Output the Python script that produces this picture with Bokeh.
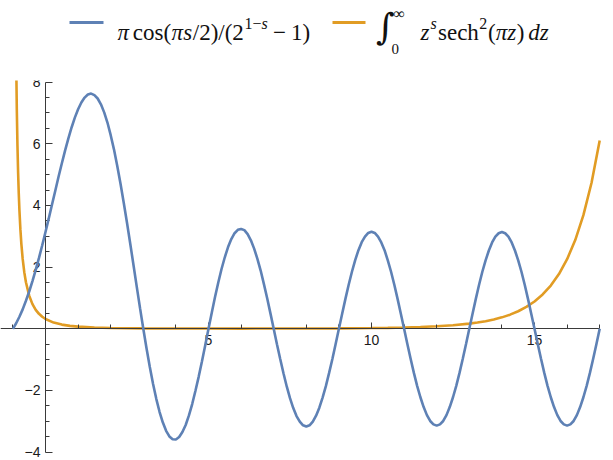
from bokeh.plotting import figure
from bokeh.models import Range1d, LinearAxis, FixedTicker, Label, Arrow
from bokeh.layouts import column
from bokeh.embed import file_html
from bokeh.resources import INLINE

# ---------------- data ----------------
s_blue = [i / 10 for i in range(-10, 171)]
blue_values = [
    0.00, 0.18, 0.39, 0.63, 0.91, 1.21, 1.55, 1.91, 2.30, 2.71,
    3.14, 3.58, 4.03, 4.48, 4.93, 5.36, 5.78, 6.17, 6.53, 6.85,
    7.12, 7.34, 7.50, 7.60, 7.63, 7.58, 7.47, 7.28, 7.02, 6.69,
    6.28, 5.82, 5.29, 4.71, 4.09, 3.44, 2.76, 2.06, 1.36, 0.67,
    0.00, -0.64, -1.24, -1.79, -2.28, -2.70, -3.04, -3.31, -3.49, -3.58,
    -3.59, -3.51, -3.35, -3.12, -2.81, -2.44, -2.01, -1.55, -1.05, -0.53,
    0.00, 0.52, 1.03, 1.50, 1.94, 2.32, 2.65, 2.91, 3.10, 3.21,
    3.24, 3.20, 3.07, 2.87, 2.60, 2.27, 1.89, 1.45, 0.99, 0.50,
    0.00, -0.50, -0.98, -1.44, -1.87, -2.25, -2.57, -2.83, -3.01, -3.13,
    -3.17, -3.13, -3.01, -2.82, -2.56, -2.23, -1.86, -1.43, -0.98, -0.49,
    0.00, 0.49, 0.97, 1.43, 1.85, 2.23, 2.55, 2.81, 2.99, 3.11,
    3.15, 3.11, 2.99, 2.80, 2.55, 2.22, 1.85, 1.43, 0.97, 0.49,
    0.00, -0.49, -0.97, -1.43, -1.85, -2.22, -2.54, -2.80, -2.99, -3.10,
    -3.14, -3.10, -2.99, -2.80, -2.54, -2.22, -1.85, -1.43, -0.97, -0.49,
    0.00, 0.49, 0.97, 1.43, 1.85, 2.22, 2.54, 2.80, 2.99, 3.10,
    3.14, 3.10, 2.99, 2.80, 2.54, 2.22, 1.85, 1.43, 0.97, 0.49,
    0.00, -0.49, -0.97, -1.43, -1.85, -2.22, -2.54, -2.80, -2.99, -3.10,
    -3.14, -3.10, -2.99, -2.80, -2.54, -2.22, -1.85, -1.43, -0.97, -0.49,
    0.00,
]
s_orange = [-0.92, -0.9, -0.88, -0.86, -0.84, -0.82, -0.8, -0.77, -0.74, -0.7,
            -0.65, -0.6, -0.5, -0.4, -0.3, -0.2, -0.1, 0, 0.25, 0.5, 0.75, 1,
            1.5, 2, 3, 4, 5, 6, 7, 8, 9, 10, 10.5, 11, 11.5, 12, 12.5, 13,
            13.25, 13.5, 13.75, 14, 14.25, 14.5, 14.75, 15, 15.25, 15.5, 15.75,
            16, 16.25, 16.5, 16.75, 17]
orange_values = [11.234, 8.755, 7.108, 5.937, 5.063, 4.387, 3.850, 3.224, 2.748,
                 2.268, 1.830, 1.509, 1.075, 0.801, 0.616, 0.486, 0.390, 0.318,
                 0.202, 0.136, 0.096, 0.070, 0.041, 0.027, 0.014, 0.009, 0.008,
                 0.007, 0.008, 0.011, 0.015, 0.024, 0.031, 0.042, 0.058, 0.081,
                 0.115, 0.167, 0.202, 0.247, 0.302, 0.371, 0.459, 0.569, 0.709,
                 0.886, 1.113, 1.404, 1.777, 2.257, 2.879, 3.686, 4.736, 6.108]

x_major_ticks = [5, 10, 15]
x_minor_ticks = [-1, 1, 2, 3, 4, 6, 7, 8, 9, 11, 12, 13, 14, 16, 17]
y_major_ticks = [-4, -2, 2, 4, 6, 8]
y_minor_ticks = [-3.5, -3, -2.5, -1.5, -1, -0.5, 0.5, 1, 1.5, 2.5, 3, 3.5,
                 4.5, 5, 5.5, 6.5, 7, 7.5]
y_label_overrides = {-4: "\u22124", -2: "\u22122"}

BLUE = "#5E81B5"
ORANGE = "#E19C24"
AXIS = "#3a3a3a"

# ---------------- geometry (page pixels -> data) ----------------
W = 605
PX0, PXU = 45.0, 32.6      # page x of s=0, px per unit
PY0, PYU = 328.3, 30.83    # page y of value 0, px per unit
x_start = (0 - PX0) / PXU
x_end = (W - PX0) / PXU
y_end = (PY0 - 80) / PYU
y_start = (PY0 - 460) / PYU

p = figure(width=W, height=390, x_range=Range1d(x_start, x_end),
           y_range=Range1d(y_start, y_end), x_axis_location=None,
           y_axis_location=None, toolbar_location=None, output_backend="svg",
           min_border_left=0, min_border_right=0, min_border_bottom=0,
           min_border_top=10, outline_line_color=None)
p.grid.visible = False

common = dict(axis_line_color=AXIS, axis_line_width=1,
              major_tick_line_color=AXIS, minor_tick_line_color=AXIS,
              major_tick_line_width=1, minor_tick_line_width=1,
              major_tick_out=0, minor_tick_out=0,
              major_label_text_font="Liberation Sans",
              major_label_text_font_size="14px",
              major_label_text_color="#1a1a1a")

xa = LinearAxis(fixed_location=0,
                ticker=FixedTicker(ticks=x_major_ticks, minor_ticks=x_minor_ticks),
                bounds=(x_start, 17), major_tick_in=6, minor_tick_in=4,
                major_label_standoff=6, **common)
p.add_layout(xa, "below")

ya = LinearAxis(fixed_location=0,
                ticker=FixedTicker(ticks=y_major_ticks, minor_ticks=y_minor_ticks),
                bounds=(-4, 8), major_tick_in=7, minor_tick_in=4,
                major_label_standoff=5, major_label_overrides=y_label_overrides,
                **common)
p.add_layout(ya, "left")

p.line(s_blue, blue_values, line_color=BLUE, line_width=2.6, level="overlay")
p.line(s_orange, orange_values, line_color=ORANGE, line_width=2.6)

# ---------------- legend (page-pixel coordinates) ----------------
lf = figure(width=W, height=70, x_range=Range1d(0, W), y_range=Range1d(70, 0),
            x_axis_location=None, y_axis_location=None, toolbar_location=None,
            output_backend="svg", min_border=0, outline_line_color=None)
lf.grid.visible = False

lf.add_layout(Arrow(x_start=69, y_start=22, x_end=103, y_end=22, end=None,
                    line_color=BLUE, line_width=3))
lf.add_layout(Arrow(x_start=332, y_start=22, x_end=365, y_end=22, end=None,
                    line_color=ORANGE, line_width=3))

SERIF = "Liberation Serif"
MAIN, SUP = 23, 16
BASE, RAISE = 32, 9
EMW = {"normal": {" ": .25, "c": .444, "o": .5, "s": .389, "e": .444, "h": .5,
                  "(": .333, ")": .333, "/": .278, "1": .5, "2": .5, "\u2212": .564},
       "italic": {"\u03c0": .5, "s": .389, "z": .389, "d": .5}}

def text_run(tokens, x):
    for txt, style, sup, gap in tokens:
        size = SUP if sup else MAIN
        x += gap * MAIN
        lf.add_layout(Label(x=x, y=BASE - RAISE if sup else BASE, text=txt,
                            text_font=SERIF, text_font_style=style,
                            text_font_size=f"{size}px", text_baseline="alphabetic",
                            text_align="left", text_color="#111111"))
        x += sum(EMW[style].get(ch, .5) for ch in txt) * size
    return x

text_run([("\u03c0", "italic", False, 0), ("cos(", "normal", False, .167),
          ("\u03c0s", "italic", False, .02), ("/2)/(2", "normal", False, .03),
          ("1\u2212", "normal", True, .03), ("s", "italic", True, 0),
          ("\u2212", "normal", False, .222), ("1)", "normal", False, .222)], 117)

text_run([("z", "italic", False, 0), ("s", "italic", True, .05),
          ("sech", "normal", False, .05), ("2", "normal", True, .02),
          ("(", "normal", False, .03), ("\u03c0z", "italic", False, 0),
          (")", "normal", False, .03), ("dz", "italic", False, .167)], 420)

lf.add_layout(Label(x=385, y=26, text="\u222b", text_font="DejaVu Serif",
                    text_font_style="italic", text_font_size="36px",
                    text_baseline="middle", text_align="center",
                    text_color="#111111"))
lf.add_layout(Label(x=393, y=13, text="\u221e", text_font=SERIF,
                    text_font_size="16px", text_baseline="alphabetic",
                    text_align="left", text_color="#111111"))
lf.add_layout(Label(x=391, y=48, text="0", text_font=SERIF,
                    text_font_size="15px", text_baseline="alphabetic",
                    text_align="left", text_color="#111111"))

layout = column(lf, p)
open("out.html", "w").write(file_html(layout, INLINE))
